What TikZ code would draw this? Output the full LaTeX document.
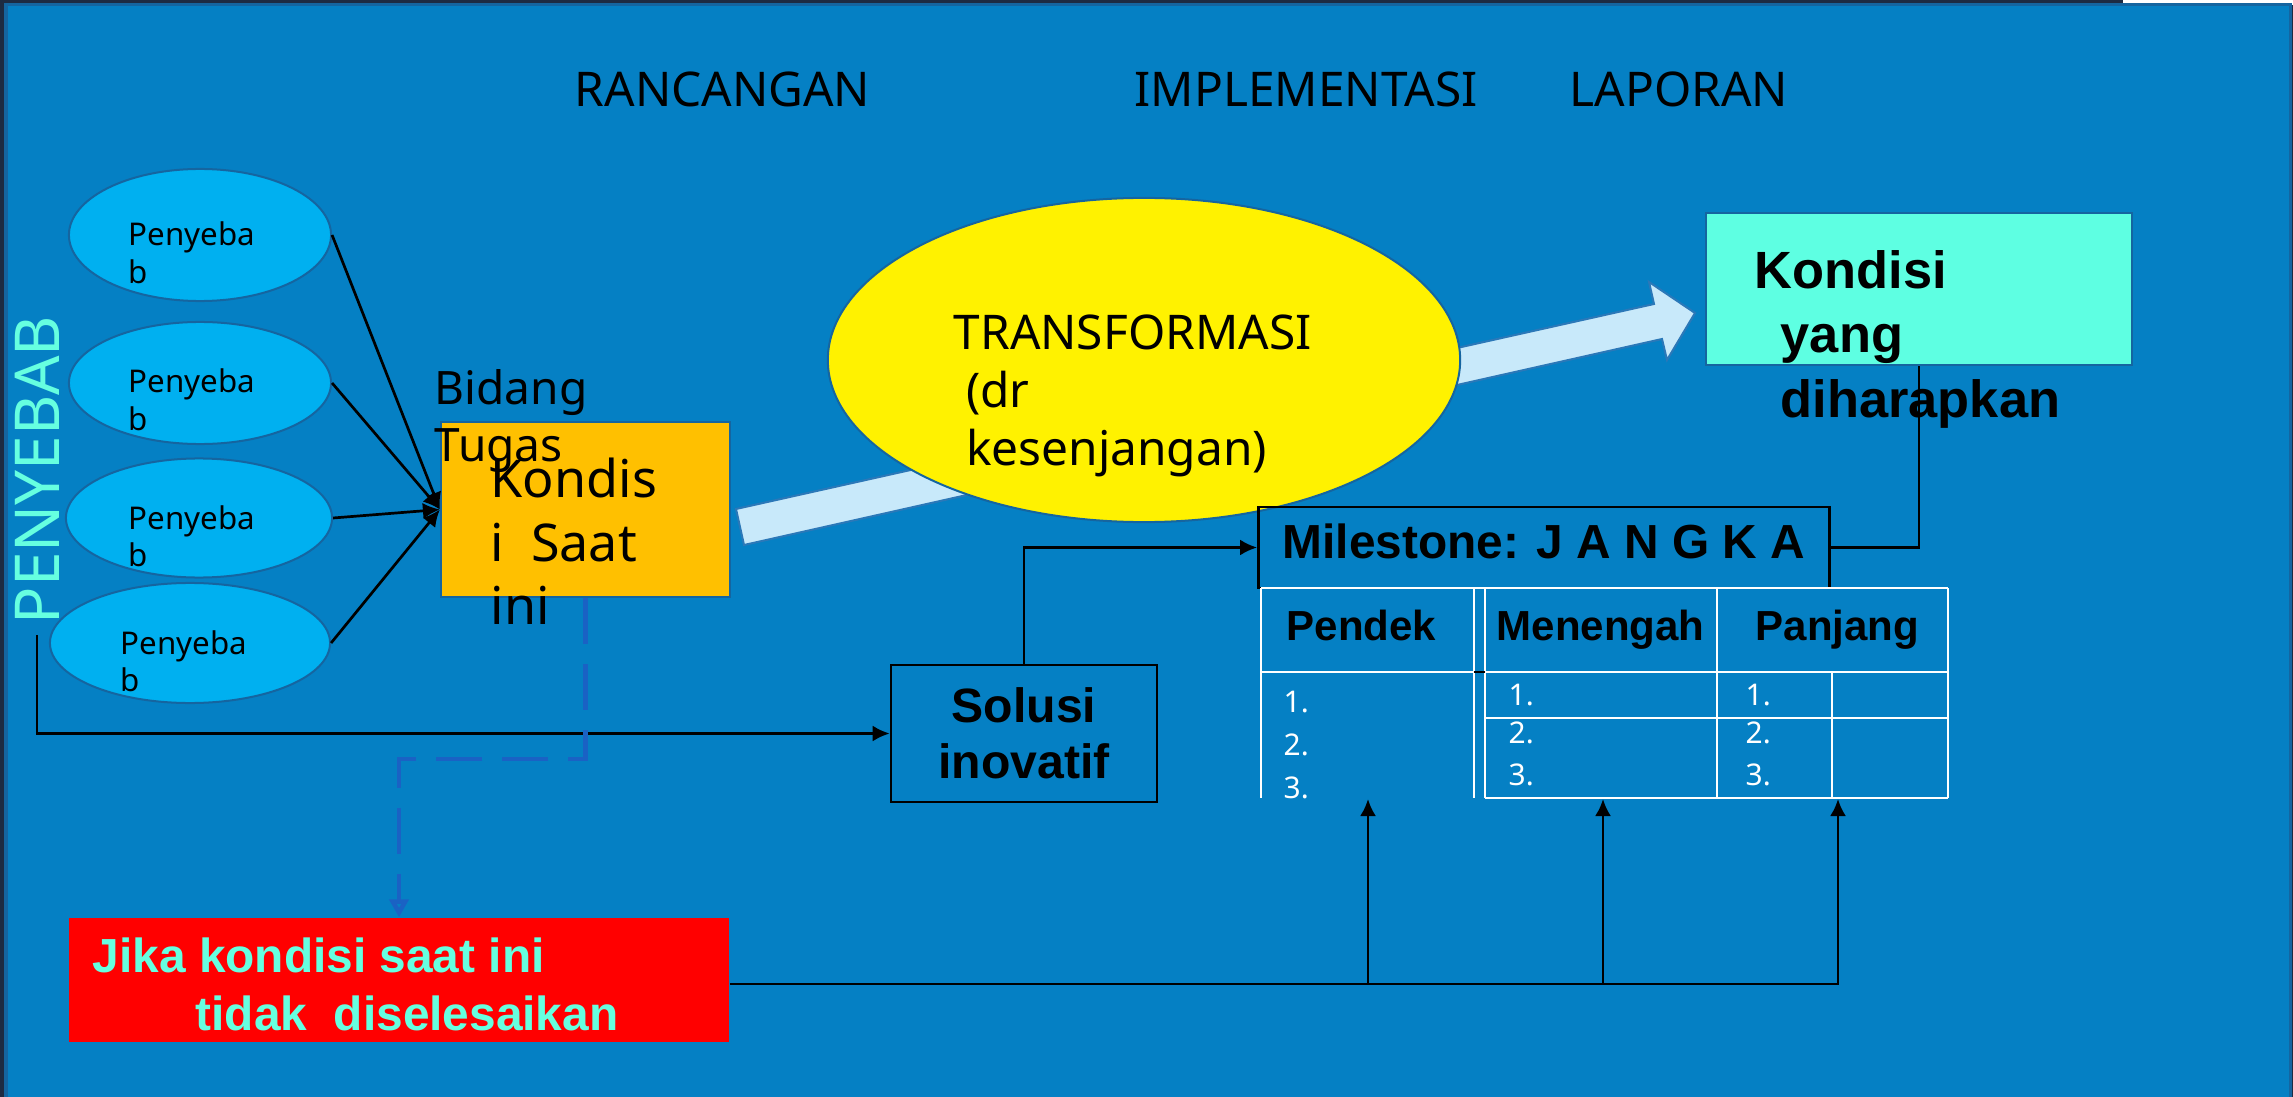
\documentclass[tikz,border=0pt]{standalone}
\usepackage{fontspec}
\setmainfont{Noto Sans}
\newfontfamily\arialfont{Liberation Sans}
\usetikzlibrary{shapes.geometric,arrows.meta}

\definecolor{slide}{HTML}{0580C4}
\definecolor{frame}{HTML}{1D2B42}
\definecolor{cause}{HTML}{00B0F0}
\definecolor{causeedge}{HTML}{1565A0}
\definecolor{aqua}{HTML}{66FFE0}
\definecolor{goal}{HTML}{5EFFE2}
\definecolor{now}{HTML}{FFC000}
\definecolor{flow}{HTML}{C8E9FA}
\definecolor{flowedge}{HTML}{2B78B8}
\definecolor{dashblue}{HTML}{1A62C4}

\newcommand{\fs}[2]{\fontsize{#1}{#2}\selectfont}
\newcommand{\rows}[1]{\begin{tabular}[t]{@{}l@{}}#1\end{tabular}}

\tikzset{
  txt/.style={anchor=base west, inner sep=0pt},
  causebox/.style={ellipse, draw=causeedge, line width=0.2mm, fill=cause, inner sep=0pt},
  conn/.style={draw=black, line width=0.27mm, -{Latex[length=1.7mm,width=1.6mm]}},
  tabline/.style={white, line width=0.2mm},
}

\begin{document}
\begin{tikzpicture}[x=0.01cm, y=-0.01cm]
  \useasboundingbox (0,0) rectangle (2293,1097);
  \fill[frame] (0,0) rectangle (2293,1097);
  \fill[white] (2123,0) rectangle (2293,5);
  \filldraw[fill=slide, draw=causeedge, line width=0.3mm] (6,5) rectangle (2290,1100);

  %phases
  \node[txt, font=\fs{13.6pt}{16pt}] (rancangan) at (574,107) {RANCANGAN};
  \node[txt, font=\fs{13.6pt}{16pt}] (implementasi) at (1134,107) {IMPLEMENTASI};
  \node[txt, font=\fs{13.6pt}{16pt}] (laporan) at (1569,107) {LAPORAN};

  %wide arrow
  \filldraw[fill=flow, draw=flowedge, line width=0.2mm] (736,509) -- (1654,304) -- (1649,282) -- (1695,313) -- (1667,360) -- (1662,339) -- (744,545) -- cycle;

  %causes
  \node[causebox, minimum width=26.2mm, minimum height=13.2mm] (c1) at (200,235) {};
  \node[causebox, minimum width=26.2mm, minimum height=12.2mm] (c2) at (200,383) {};
  \node[causebox, minimum width=26.6mm, minimum height=11.9mm] (c3) at (199,518) {};
  \node[causebox, minimum width=28mm, minimum height=12mm] (c4) at (190,643) {};
  \node[txt, font=\fs{8.9pt}{10.8pt}] (c1t) at (128,246) {\rows{Penyeba\\b}};
  \node[txt, font=\fs{8.9pt}{10.8pt}] (c2t) at (128,393) {\rows{Penyeba\\b}};
  \node[txt, font=\fs{8.9pt}{10.8pt}] (c3t) at (128,529) {\rows{Penyeba\\b}};
  \node[txt, font=\fs{8.9pt}{10.8pt}] (c4t) at (120,654) {\rows{Penyeba\\b}};
  \node[rotate=90, inner sep=1mm, text=aqua, font=\fs{17.6pt}{21pt}] (pen) at (37,470) {PENYEBAB};

  %current state
  \node[draw=causeedge, line width=0.2mm, fill=now, minimum width=28.9mm, minimum height=17.5mm, inner sep=0pt] (kon) at (585.5,509.5) {};
  \node[txt, font=\fs{13.1pt}{16.2pt}] (bidang) at (434,405) {\rows{Bidang\\Tugas}};
  \node[txt, font=\fs{14.8pt}{18pt}] (kont) at (490,498) {\rows{Kondis\\i\ \ Saat\\ini}};

  %transformation
  \node[ellipse, draw=causeedge, line width=0.2mm, fill=yellow, minimum width=63.2mm, minimum height=32.4mm] (trans) at (1144,360) {};
  \node[txt, font=\fs{13.6pt}{16.4pt}] (transt) at (953,350) {\rows{TRANSFORMASI\\\ (dr\\\ kesenjangan)}};

  %target state
  \node[draw=causeedge, line width=0.2mm, fill=goal, minimum width=42.6mm, minimum height=15.2mm, inner sep=0pt] (harap) at (1919,289) {};
  \node[txt, font=\arialfont\bfseries\fs{14.9pt}{18.35pt}] (harapt) at (1754,288) {\rows{Kondisi\\\hspace*{2.6mm}yang\\\hspace*{2.6mm}diharapkan}};

  %solution and milestone
  \node[draw=black, line width=0.25mm, minimum width=26.6mm, minimum height=13.7mm, align=center, font=\arialfont\bfseries\fs{13.7pt}{15.9pt}] (sol) at (1024,733.5) {Solusi\\inovatif};
  \node[draw=black, line width=0.25mm, minimum width=57.1mm, minimum height=8.1mm, inner sep=0pt, text height=3.5mm, text depth=1.4mm, font=\arialfont\bfseries\fs{13.6pt}{16pt}] (mile) at (1544,547.5) {Milestone: J A N G K A};

  %milestone table
  \draw[tabline] (1261,588) -- (1948,588);
  \draw[tabline] (1261,672) -- (1474,672);
  \draw[tabline] (1485,672) -- (1948,672);
  \draw[tabline] (1485,718) -- (1948,718);
  \draw[tabline] (1485,798) -- (1948,798);
  \foreach \x in {1261,1474,1485,1717,1948}
    \draw[tabline] (\x,588) -- (\x,798);
  \draw[tabline] (1832,672) -- (1832,798);
  \draw[black, line width=0.2mm] (1474,672) -- (1485,672);
  \node[txt, font=\arialfont\bfseries\fs{11.95pt}{14pt}] (pendek) at (1286,640) {Pendek};
  \node[txt, font=\arialfont\bfseries\fs{11.95pt}{14pt}] (menengah) at (1496,640) {Menengah};
  \node[txt, font=\arialfont\bfseries\fs{11.95pt}{14pt}] (panjang) at (1755,640) {Panjang};
  \node[txt, white, font=\fs{8.5pt}{12.3pt}] (pendekn) at (1283,712) {\rows{1.\\2.\\3.}};
  \node[txt, white, font=\fs{8.5pt}{12pt}] (menengah1) at (1508,705) {1.};
  \node[txt, white, font=\fs{8.5pt}{12pt}] (menengah2) at (1508,743) {\rows{2.\\3.}};
  \node[txt, white, font=\fs{8.5pt}{12pt}] (panjang1) at (1745,705) {1.};
  \node[txt, white, font=\fs{8.5pt}{12pt}] (panjang2) at (1745,743) {\rows{2.\\3.}};
  \coordinate (jpendek) at (1368,799);
  \coordinate (jmenengah) at (1603,799);
  \coordinate (jpanjang) at (1838,799);

  %warning
  \node[fill=red, minimum width=66mm, minimum height=12.4mm, inner sep=0pt] (warn) at (399,980) {};
  \node[txt, text=aqua, font=\arialfont\bfseries\fs{13.6pt}{16.5pt}] (warnt) at (92,972) {\rows{Jika kondisi saat ini\\\hspace*{10.3mm}tidak\ \ diselesaikan}};
  \coordinate (wbus) at ([yshift=-0.4mm]warn.east);

  %connectors
  \foreach \c in {c1,c2,c3,c4}
    \draw[conn] (\c.east) -- (kon.west);
  \draw[conn] (pen.west) |- (sol.west);
  \draw[conn] (sol.north) |- (mile.west);
  \draw[black, line width=0.27mm] (harap.south) |- (mile.east);
  \draw[dashblue, line width=0.45mm, dash pattern=on 4.6mm off 2mm, -{Triangle[open,length=1.8mm,width=1.9mm]}] (kon.south) -- ++(0,161) -| (warn.north);
  \draw[conn] (wbus) -| (jpanjang);
  \draw[conn] (jpendek |- wbus) -- (jpendek);
  \draw[conn] (jmenengah |- wbus) -- (jmenengah);
\end{tikzpicture}
\end{document}
